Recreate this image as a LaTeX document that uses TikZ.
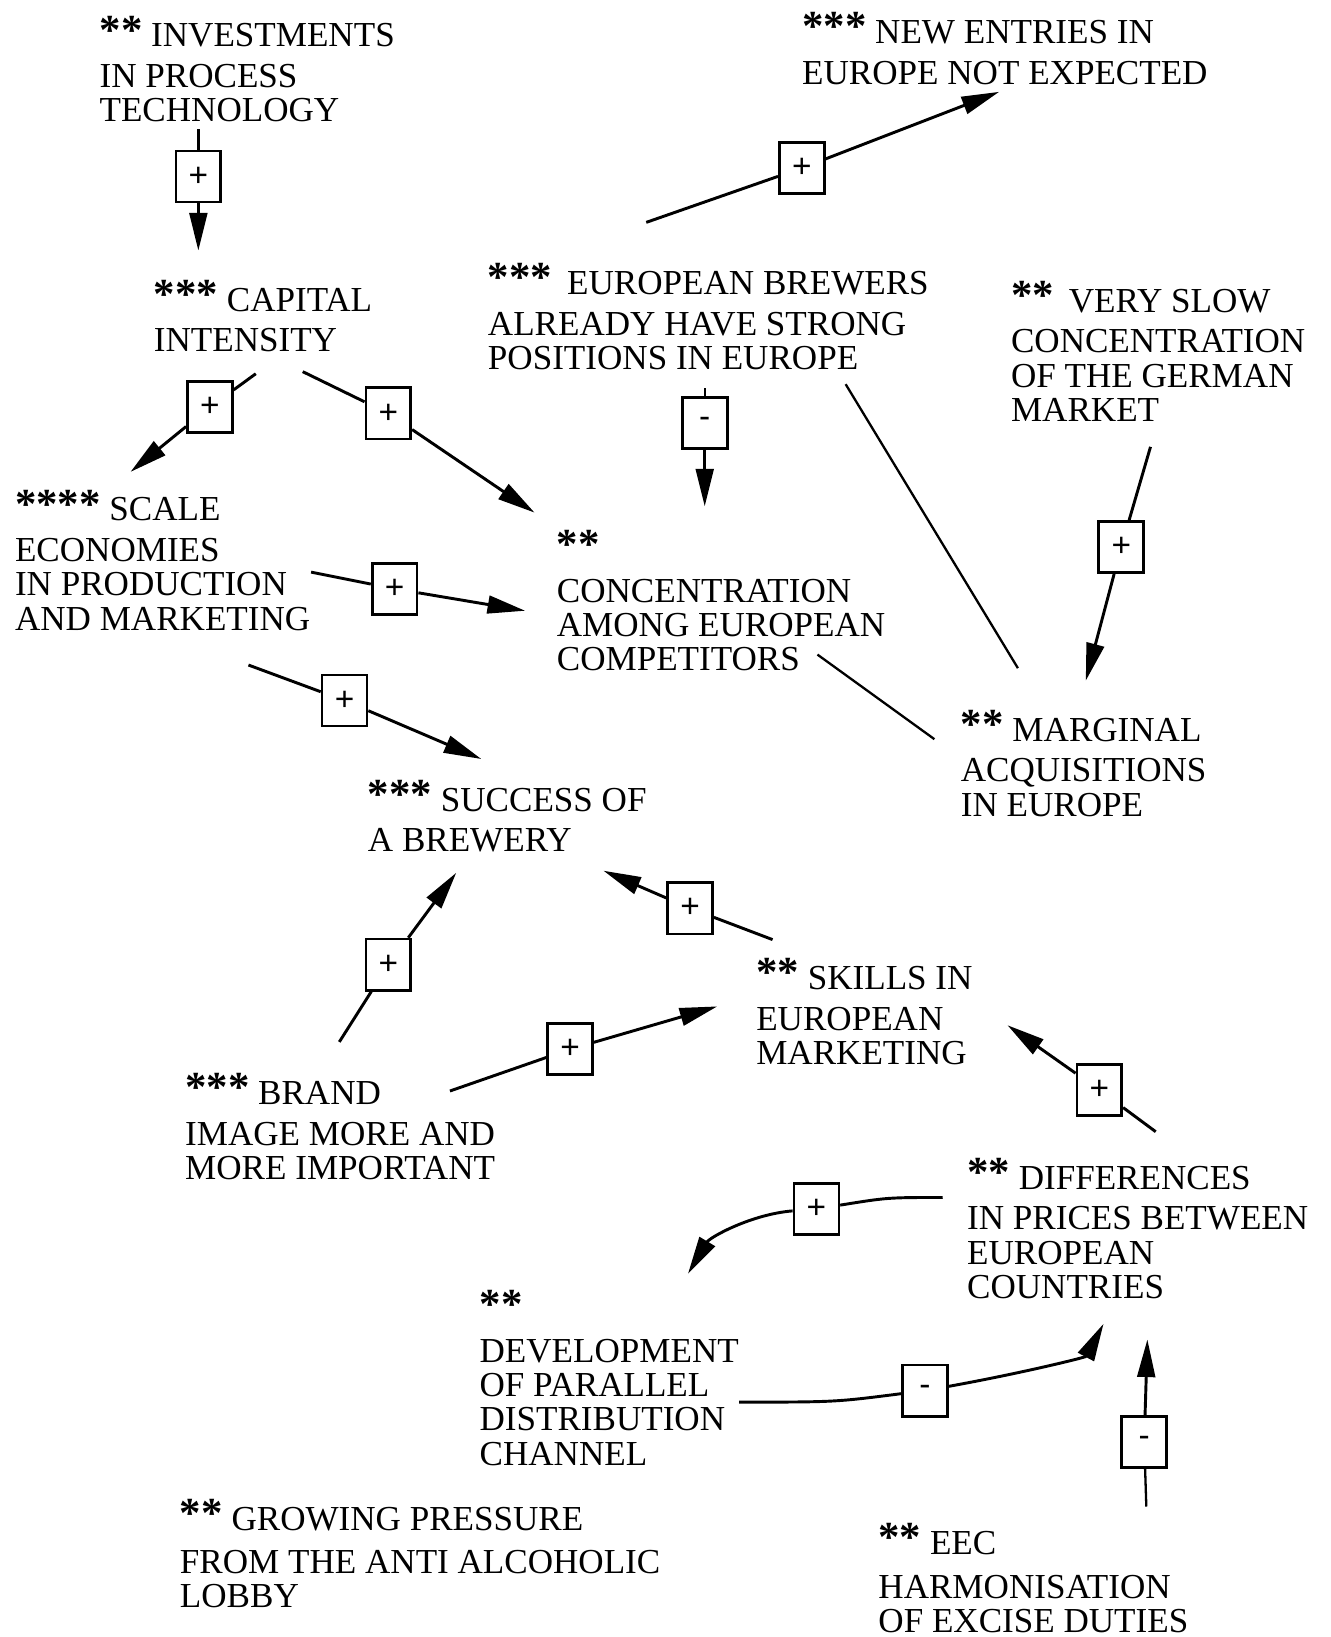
\documentclass[tikz,border=0pt]{standalone}
\usepackage{fontspec}
\setmainfont{Liberation Serif}
\newfontfamily\signfont{Liberation Sans}
\usetikzlibrary{arrows.meta}

% rating stars in front of a factor
\newcommand\stars[1]{\raisebox{1.4pt}{\fontsize{20.5}{20.5}\selectfont\bfseries #1}}
% left-aligned block of lines, baseline on the first line
\newcommand\factor[1]{\begin{tabular}[t]{@{}l@{}}#1\end{tabular}}

\tikzset{
  factorbox/.style={anchor=base west, inner sep=0pt, font=\fontsize{16.8}{16.4}\selectfont},
  sign/.style={draw, line width=1.3pt, fill=white, minimum width=21.5pt, minimum height=24.5pt,
               inner sep=0pt, font=\signfont\fontsize{16}{16}\selectfont},
  link/.style={line width=1.4pt, -{Triangle[length=18pt,width=8.5pt]}},
  tie/.style={line width=1.4pt},
  plain/.style={line width=1.1pt},
}

\begin{document}
\begin{tikzpicture}[x=0.5pt,y=-0.5pt]
\useasboundingbox (0,0) rectangle (1274,1568);

% ---------------- factors ----------------
\node[factorbox] (inv) at (95,45)
  {\factor{\stars{**} INVESTMENTS\\[3.1pt]IN PROCESS\\TECHNOLOGY}};
\node[factorbox] (cap) at (147,298)
  {\factor{\stars{***} CAPITAL\\[3.1pt]INTENSITY}};
\node[factorbox] (neu) at (768,42)
  {\factor{\stars{***} NEW ENTRIES IN\\[3.1pt]EUROPE NOT EXPECTED}};
\node[factorbox] (eb) at (467,282)
  {\factor{\stars{***}\hspace{3pt} EUROPEAN BREWERS\\[3.1pt]ALREADY HAVE STRONG\\POSITIONS IN EUROPE}};
\node[factorbox] (vs) at (968,299)
  {\factor{\stars{**}\hspace{3pt} VERY SLOW\\[3.1pt]CONCENTRATION\\OF THE GERMAN\\MARKET}};
\node[factorbox] (scale) at (14,499)
  {\factor{\stars{****} SCALE\\[3.1pt]ECONOMIES\\IN PRODUCTION\\AND MARKETING}};
\node[factorbox] (conc) at (533,538)
  {\factor{\stars{**}\\[3.1pt]CONCENTRATION\\AMONG EUROPEAN\\COMPETITORS}};
\node[factorbox] (marg) at (920,710)
  {\factor{\stars{**} MARGINAL\\[3.1pt]ACQUISITIONS\\IN EUROPE}};
\node[factorbox] (succ) at (352,777)
  {\factor{\stars{***} SUCCESS OF\\[3.1pt]A BREWERY}};
\node[factorbox] (skills) at (724,948)
  {\factor{\stars{**} SKILLS IN\\[3.1pt]EUROPEAN\\MARKETING}};
\node[factorbox] (brand) at (177,1058)
  {\factor{\stars{***} BRAND\\[3.1pt]IMAGE MORE AND\\MORE IMPORTANT}};
\node[factorbox] (diff) at (926,1139)
  {\factor{\stars{**} DIFFERENCES\\[3.1pt]IN PRICES BETWEEN\\EUROPEAN\\COUNTRIES}};
\node[factorbox] (dev) at (459,1266)
  {\factor{\stars{**}\\[3.1pt]DEVELOPMENT\\OF PARALLEL\\DISTRIBUTION\\CHANNEL}};
\node[factorbox] (lobby) at (172,1466)
  {\factor{\stars{**} GROWING PRESSURE\\[4pt]FROM THE ANTI ALCOHOLIC\\LOBBY}};
\node[factorbox] (eec) at (841,1489)
  {\factor{\stars{**} EEC\\[4.5pt]HARMONISATION\\OF EXCISE DUTIES}};

% ---------------- influence signs ----------------
\node[sign] (sA) at (190,169) {+};
\node[sign] (sB) at (201,390) {+};
\node[sign] (sC) at (372,396) {+};
\node[sign] (sD) at (768,161) {+};
\node[sign] (sE) at (675,405) {-};
\node[sign] (sG) at (1074,524) {+};
\node[sign] (sH) at (378,564) {+};
\node[sign] (sI) at (330,671) {+};
\node[sign] (sK) at (661,870) {+};
\node[sign] (sL) at (372,924) {+};
\node[sign] (sM) at (546,1005) {+};
\node[sign] (sN) at (1053,1044) {+};
\node[sign] (sO) at (782,1158) {+};
\node[sign] (sP) at (886,1332) {-};
\node[sign] (sQ) at (1096,1381) {-};

% ---------------- connector ends ----------------
\coordinate (a1) at (190,124);  \coordinate (a2) at (190,240);
\coordinate (b1) at (245,358);  \coordinate (b2) at (125,452);
\coordinate (c1) at (290,356);  \coordinate (c2) at (512,491);
\coordinate (d1) at (619,213);  \coordinate (d2) at (957,88);
\coordinate (e1) at (675,372);  \coordinate (e2) at (675,485);
\coordinate (f1) at (810,368);  \coordinate (f2) at (975,640);
\coordinate (g1) at (1102,428); \coordinate (g2) at (1040,652);
\coordinate (h1) at (298,548);  \coordinate (h2) at (503,585);
\coordinate (i1) at (238,637);  \coordinate (i2) at (461,727);
\coordinate (j1) at (783,627);  \coordinate (j2) at (895,708);
\coordinate (k1) at (740,900);  \coordinate (k2) at (578,834);
\coordinate (l1) at (325,998);  \coordinate (l2) at (437,836);
\coordinate (m1) at (431,1045); \coordinate (m2) at (687,964);
\coordinate (n1) at (1107,1084);\coordinate (n2) at (965,982);
\coordinate (o1) at (903,1147); \coordinate (o2) at (659,1220);
\coordinate (p1) at (708,1343); \coordinate (p2) at (1057,1268);
\coordinate (q1) at (1098,1443);\coordinate (q2) at (1099,1283);

% ---------------- connectors ----------------
\draw[plain] (a1) -- (sA);  \draw[link] (sA) -- (a2);
\draw[tie] (b1) -- (sB);    \draw[link] (sB) -- (b2);
\draw[tie] (c1) -- (sC);    \draw[link] (sC) -- (c2);
\draw[tie] (d1) -- (sD);    \draw[link] (sD) -- (d2);
\draw[plain] (e1) -- (sE);  \draw[link] (sE) -- (e2);
\draw[plain] (f1) -- (f2);
\draw[tie] (g1) -- (sG);    \draw[link] (sG) -- (g2);
\draw[tie] (h1) -- (sH);    \draw[link] (sH) -- (h2);
\draw[tie] (i1) -- (sI);    \draw[link] (sI) -- (i2);
\draw[plain] (j1) -- (j2);
\draw[tie] (k1) -- (sK);    \draw[link] (sK) -- (k2);
\draw[tie] (l1) -- (sL);    \draw[link] (sL) -- (l2);
\draw[tie] (m1) -- (sM);    \draw[link] (sM) -- (m2);
\draw[tie] (n1) -- (sN);    \draw[link] (sN) -- (n2);
\draw[tie] (o1) .. controls (850,1147) .. (sO);
\draw[link] (sO) .. controls (720,1163) and (680,1185) .. (o2);
\draw[tie] (p1) .. controls (800,1343) .. (sP);
\draw[link] (sP) .. controls (980,1315) and (1040,1300) .. (p2);
\draw[plain] (q1) -- (sQ);  \draw[link] (sQ) -- (q2);
\end{tikzpicture}
\end{document}
